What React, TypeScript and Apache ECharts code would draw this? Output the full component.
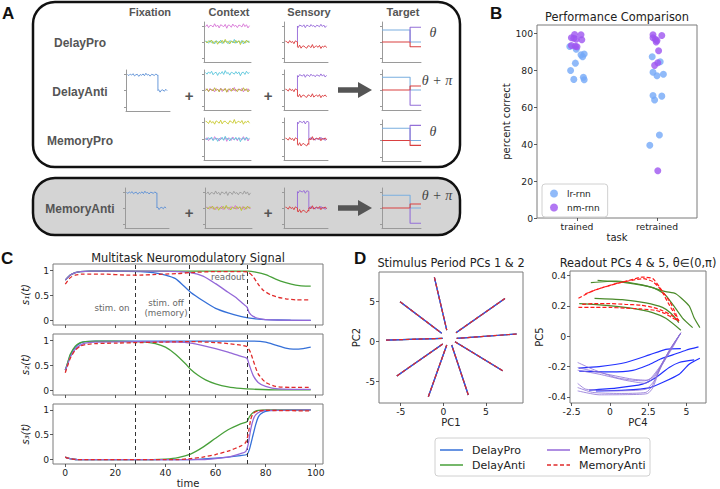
import React, { useEffect, useRef } from 'react';
import * as echarts from 'echarts';

const FONT = 'DejaVu Sans';
const HEAD_FONT = 'Liberation Sans';
const SERIF = 'Liberation Serif';

const TASKS = ['DelayPro', 'DelayAnti', 'MemoryPro', 'MemoryAnti'];
const TASK_COLOR: Record<string, string> = { DelayPro: '#3570d8', DelayAnti: '#48a03a', MemoryPro: '#9468d8', MemoryAnti: '#e02a2a' };
const READOUT_COLOR: Record<string, string> = { DelayPro: '#2130ff', DelayAnti: '#4b8b2b', MemoryPro: '#8d70d6', MemoryAnti: '#ff1a1a' };

// ---------- Panel A (schematic) ----------
const jitA = [0.02, -0.03, 0.04, -0.01, 0.06, -0.05, 0.01, 0.03, -0.07, 0.02, -0.02, 0.05, -0.04, 0.08, -0.01, 0.02, -0.06, 0.03, 0.01, -0.03, 0.05, -0.02, 0.04, -0.08, 0.02, 0.03, -0.04, 0.06, -0.01, 0.02];
const jitB = [-0.02, 0.04, -0.05, 0.02, 0.01, -0.03, 0.07, -0.02, 0.03, -0.06, 0.04, 0.01, -0.02, 0.05, -0.07, 0.03, 0.02, -0.04, 0.06, -0.01, 0.02, -0.05, 0.03, 0.01, -0.03, 0.07, -0.02, 0.04, -0.06, 0.01];
const jitC = [0.03, 0.01, -0.04, 0.05, -0.02, 0.02, -0.06, 0.04, 0.01, -0.03, 0.06, -0.05, 0.02, 0.03, -0.02, -0.05, 0.04, 0.02, -0.03, 0.08, -0.04, 0.01, 0.03, -0.02, 0.05, -0.06, 0.02, -0.01, 0.04, -0.03];
const fixationLevels = [0.88, 0.5];
const fixationOffIndex = 22;
const contextHigh = [0.9, 0.92, 0.9, 0.87];
const contextLow = 0.5;
const sensoryOnIndex = 9;
const memoryOffIndex = 17;
const sensoryHigh = [0.9, 0.86, 0.9, 0.91];
const sensoryBase = 0.5;
const sensoryRedLow = [0.38, 0.35, 0.37, 0.42];
const targetStep = 72;
const targetProBlue = [0.8, 0.5];
const targetProRed = [0.5, 0.38];
const targetProPurple = 0.87;
const targetAntiBlue = [0.82, 0.5];
const targetAntiRed = [0.5, 0.6];
const targetAntiPurple = 0.12;

// ---------- Panel B ----------
const perfCategories = ['trained', 'retrained'];
const perfTicks = [0, 20, 40, 60, 80, 100];
const lrTrained = [[-0.09, 93], [-0.01, 91.5], [0.09, 89], [0.07, 87.5], [0.05, 88.5], [-0.02, 84], [-0.08, 80], [-0.04, 75.2], [0.08, 76.4], [0.09, 75]];
const nmTrained = [[-0.03, 99.5], [0.05, 99.4], [-0.07, 97.8], [-0.04, 97.5], [-0.01, 97], [0.06, 96.7], [-0.07, 93.6], [-0.02, 93.2], [0.0, 92.9]];
const lrRetrained = [[0.94, 87.5], [1.04, 84.8], [0.95, 79.1], [1.0, 77.2], [1.08, 78], [0.95, 66.5], [0.97, 64], [1.06, 66.1], [1.03, 45], [0.91, 39.5]];
const nmRetrained = [[0.95, 99.4], [1.06, 99], [0.95, 97.8], [0.98, 97], [1.0, 96.3], [0.99, 95.5], [1.02, 90.7], [1.01, 84.2], [0.97, 82.8], [1.01, 25.6]];

// ---------- Panel C ----------
const timeTicks = [0, 20, 40, 60, 80, 100];
const signalTicks = [0, 0.5, 1];
const epochBounds = [28, 49.5, 72.5];
const epochLabels = ['stim. on', 'stim. off', '(memory)', 'readout'];
const s1DelayPro = [[0, 0.8], [2, 0.9], [4, 0.95], [6, 0.97], [10, 0.98], [20, 0.98], [30, 0.97], [35, 0.95], [40, 0.9], [44, 0.83], [47, 0.7], [50, 0.56], [55, 0.39], [60, 0.24], [65, 0.15], [70, 0.08], [73, 0.05], [76, 0.03], [80, 0.015], [90, 0.005], [98, 0]];
const s1DelayAnti = [[0, 0.8], [2, 0.9], [4, 0.95], [6, 0.97], [10, 0.98], [30, 0.98], [50, 0.98], [70, 0.98], [73, 0.98], [76, 0.96], [80, 0.91], [84, 0.82], [88, 0.75], [92, 0.7], [96, 0.68], [98, 0.68]];
const s1MemoryPro = [[0, 0.8], [2, 0.9], [4, 0.95], [6, 0.97], [10, 0.98], [30, 0.98], [40, 0.98], [45, 0.97], [50, 0.95], [55, 0.88], [60, 0.73], [65, 0.56], [68, 0.46], [71, 0.33], [72.5, 0.27], [73.5, 0.15], [75, 0.08], [78, 0.03], [82, 0.01], [98, 0]];
const s1MemoryAnti = [[0, 0.72], [2, 0.85], [4, 0.9], [7, 0.92], [15, 0.92], [25, 0.9], [30, 0.9], [35, 0.91], [40, 0.92], [45, 0.93], [50, 0.95], [60, 0.97], [70, 0.97], [73, 0.96], [75, 0.87], [77, 0.72], [79, 0.6], [82, 0.51], [85, 0.46], [88, 0.43], [92, 0.41], [98, 0.41]];
const s2DelayPro = [[0, 0.4], [1, 0.55], [2, 0.7], [4, 0.86], [6, 0.94], [8, 0.97], [12, 0.98], [40, 0.98], [60, 0.98], [75, 0.98], [80, 0.96], [84, 0.9], [88, 0.84], [91, 0.82], [95, 0.83], [98, 0.86]];
const s2DelayAnti = [[0, 0.4], [1, 0.56], [2, 0.72], [4, 0.88], [6, 0.95], [8, 0.97], [12, 0.98], [28, 0.97], [32, 0.96], [36, 0.93], [40, 0.86], [44, 0.72], [48, 0.53], [50, 0.42], [53, 0.3], [56, 0.21], [60, 0.13], [65, 0.07], [70, 0.04], [75, 0.025], [85, 0.01], [98, 0.01]];
const s2MemoryPro = [[0, 0.4], [1, 0.52], [2, 0.66], [4, 0.82], [6, 0.9], [8, 0.94], [12, 0.96], [30, 0.97], [45, 0.96], [50, 0.94], [55, 0.89], [60, 0.83], [65, 0.76], [70, 0.68], [72.5, 0.64], [73.5, 0.5], [75, 0.3], [77, 0.16], [80, 0.08], [85, 0.03], [98, 0.02]];
const s2MemoryAnti = [[0, 0.35], [1, 0.5], [2, 0.64], [4, 0.8], [6, 0.88], [8, 0.91], [12, 0.93], [20, 0.94], [30, 0.95], [40, 0.96], [50, 0.97], [60, 0.95], [65, 0.93], [70, 0.9], [72.5, 0.87], [74, 0.75], [75, 0.6], [77, 0.33], [80, 0.16], [84, 0.08], [90, 0.06], [98, 0.06]];
const s3DelayPro = [[0, 0.05], [1, 0.03], [3, 0.01], [5, 0], [50, 0], [60, 0.03], [65, 0.05], [70, 0.08], [72.5, 0.1], [73.5, 0.2], [75, 0.5], [76, 0.7], [77, 0.85], [78, 0.92], [80, 0.97], [84, 0.99], [98, 1]];
const s3DelayAnti = [[0, 0.05], [1, 0.03], [3, 0.01], [5, 0], [35, 0], [40, 0.01], [45, 0.04], [50, 0.11], [55, 0.25], [60, 0.43], [65, 0.6], [70, 0.72], [72.5, 0.76], [73.5, 0.86], [75, 0.95], [77, 0.99], [80, 1], [98, 1]];
const s3MemoryPro = [[0, 0.05], [1, 0.03], [3, 0.01], [5, 0], [55, 0], [60, 0.02], [65, 0.05], [70, 0.12], [72, 0.16], [73, 0.3], [74, 0.6], [75, 0.8], [76, 0.9], [78, 0.97], [80, 0.99], [98, 1]];
const s3MemoryAnti = [[0, 0.05], [1, 0.03], [3, 0.01], [5, 0], [45, 0], [50, 0.02], [55, 0.05], [60, 0.1], [65, 0.17], [70, 0.27], [72, 0.34], [73, 0.5], [74, 0.8], [75, 0.93], [77, 0.98], [80, 0.99], [98, 0.98]];
const signals = [
  [s1DelayPro, s1DelayAnti, s1MemoryPro, s1MemoryAnti],
  [s2DelayPro, s2DelayAnti, s2MemoryPro, s2MemoryAnti],
  [s3DelayPro, s3DelayAnti, s3MemoryPro, s3MemoryAnti],
];

// ---------- Panel D ----------
const pcTicks = [-5, 0, 5];
const spokeOuter = [[-1.05, 8.05], [-5.08, 5.0], [7.23, 5.4], [8.6, 0.96], [-6.72, 0.2], [-5.46, -4.29], [-1.76, -6.87], [2.93, -6.66], [6.96, -3.62]];
const spokeInner = [[0.4, 1.46], [-0.19, 1.05], [1.49, 1.13], [1.57, 0.42], [-0.07, 0.42], [-0.07, -0.29], [0.4, -0.41], [0.98, -0.41], [1.37, 0]];
const pc4Ticks = [-2.5, 0, 2.5, 5];
const pc5Ticks = [-0.4, -0.2, 0, 0.2, 0.4];
const readoutDelayPro = [
  [[-2.04, -0.21], [-0.7, -0.2], [1.04, -0.173], [2.57, -0.123], [3.65, -0.086], [4.63, -0.081]],
  [[-2.0, -0.23], [0, -0.235], [1.5, -0.225], [2.5, -0.19], [3.3, -0.15], [4.1, -0.123], [4.96, -0.092], [5.78, -0.07]],
  [[-1.35, -0.355], [0.39, -0.342], [2.13, -0.316], [3.0, -0.272], [3.87, -0.206], [4.52, -0.173], [5.5, -0.156]],
  [[-0.91, -0.36], [1.0, -0.355], [2.57, -0.34], [3.43, -0.305], [4.52, -0.25], [5.17, -0.184], [5.87, -0.145]],
];
const readoutDelayAnti = [
  [[-1.24, 0.353], [0.4, 0.364], [2.1, 0.338], [3.65, 0.294], [4.3, 0.28], [5.17, 0.2], [5.5, 0.12], [5.87, 0.057]],
  [[-0.8, 0.368], [1.0, 0.353], [2.8, 0.32], [3.54, 0.28], [4.1, 0.21], [4.74, 0.12], [5.4, 0.057]],
  [[-2.0, 0.215], [-0.26, 0.204], [1.48, 0.184], [2.78, 0.156], [3.65, 0.118], [4.63, 0.04]],
  [[-1.0, 0.25], [0.8, 0.241], [2.35, 0.22], [3.43, 0.19], [4.0, 0.15], [4.5, 0.09]],
];
const readoutMemoryPro = [
  [[-2.1, -0.173], [-1.13, -0.217], [0.39, -0.272], [1.5, -0.29], [2.24, -0.294], [2.78, -0.272], [3.43, -0.184], [4.09, -0.075], [4.63, 0.022]],
  [[-2.1, -0.206], [-0.7, -0.239], [1.48, -0.283], [2.46, -0.29], [3.22, -0.206], [3.98, -0.086], [4.63, 0.022]],
  [[-2.1, -0.224], [-0.7, -0.25], [1.0, -0.29], [2.3, -0.31], [2.9, -0.27], [3.5, -0.16], [4.1, -0.06], [4.63, 0.022]],
  [[-2.1, -0.311], [-1.57, -0.349], [0.39, -0.36], [2.35, -0.349], [2.89, -0.294], [3.43, -0.184], [4.05, -0.07], [4.63, 0.022]],
  [[-2.1, -0.338], [-1.13, -0.37], [0.61, -0.377], [2.35, -0.37], [2.75, -0.33], [3.3, -0.2], [3.95, -0.08], [4.63, 0.022]],
  [[-2.1, -0.36], [-0.7, -0.386], [1.0, -0.385], [2.45, -0.378], [2.8, -0.34], [3.25, -0.22], [3.9, -0.09], [4.63, 0.022]],
];
const readoutMemoryAnti = [
  [[-2.05, 0.25], [-1.1, 0.3], [0.2, 0.34], [1.5, 0.375], [2.1, 0.39], [2.8, 0.38], [3.4, 0.3], [3.9, 0.23], [4.2, 0.17], [4.5, 0.1]],
  [[-1.6, 0.28], [-0.5, 0.32], [0.5, 0.35], [1.5, 0.37], [2.2, 0.38], [2.8, 0.36], [3.3, 0.31], [3.8, 0.22], [4.2, 0.15], [4.5, 0.1]],
  [[-1.8, 0.21], [-1.0, 0.215], [0, 0.215], [1.0, 0.21], [2.0, 0.205], [2.8, 0.19], [3.4, 0.17], [4.0, 0.14], [4.5, 0.1]],
  [[-2.05, 0.19], [-1.0, 0.19], [0, 0.19], [1.0, 0.185], [2.0, 0.18], [3.0, 0.17], [3.6, 0.15], [4.1, 0.12], [4.5, 0.1]],
];
const readouts = [readoutDelayPro, readoutDelayAnti, readoutMemoryPro, readoutMemoryAnti];

// ---------- helpers ----------
function trace(jit: number[], segs: [number, number, number][], amp: number, lead?: number) {
  const out: number[][] = [];
  if (lead !== undefined) {
    out.push([segs[0][0] - 0.5, lead]);
    out.push([segs[0][0] - 0.5, segs[0][2]]);
  }
  segs.forEach(([a, b, lvl], k) => {
    if (k > 0) {
      out.push([a - 0.5, segs[k - 1][2]]);
      out.push([a - 0.5, lvl]);
    }
    for (let i = a; i <= b; i++) out.push([i, lvl + amp * jit[i]]);
  });
  return out;
}

function buildOption() {
  const grid: any[] = [], xAxis: any[] = [], yAxis: any[] = [], series: any[] = [], graphic: any[] = [];
  const nameTextStyle = { fontSize: 10, color: '#222', fontFamily: FONT };
  const addGrid = (g: any, xa: any, ya: any) => {
    const i = grid.length;
    grid.push(g);
    xAxis.push({ gridIndex: i, type: 'value', splitLine: { show: false }, ...xa });
    yAxis.push({ gridIndex: i, type: 'value', splitLine: { show: false }, ...ya });
    return i;
  };
  const framed = (l: number, t: number, w: number, h: number) => ({ left: l, top: t, width: w, height: h, show: true, borderColor: '#7a7a7a', borderWidth: 1, backgroundColor: 'rgba(0,0,0,0)' });
  const tick = (vals: number[]) => ({ show: true, customValues: vals, length: 3, lineStyle: { color: '#333', width: 0.8 } });
  const lbl = (vals: number[], show = true, fmt?: any) => {
    const o: any = { show, customValues: vals, fontSize: 9.2, color: '#222', fontFamily: FONT, margin: 4 };
    if (fmt) o.formatter = fmt;
    return o;
  };
  const noLine = { show: false, onZero: false };

  // ---------- Panel A mini plots ----------
  const miniAxisX = { min: -1, max: 30, z: 5, axisLine: { show: true, onZero: false, lineStyle: { color: '#9a9a9a', width: 1 } }, axisTick: { show: false }, axisLabel: { show: false } };
  const miniAxisY = { min: 0, max: 1, z: 5, axisLine: { show: true, onZero: false, lineStyle: { color: '#9a9a9a', width: 1 } }, axisTick: { show: true, customValues: [0.1, 0.5, 0.9], length: 2, lineStyle: { color: '#9a9a9a' } }, axisLabel: { show: false } };
  const mini = (r: number[], xmax = 30, xmin = -1) => addGrid({ left: r[0], top: r[1], width: r[2], height: r[3] }, { ...miniAxisX, min: xmin, max: xmax }, miniAxisY);
  const miniLine = (gi: number, data: number[][], color: string, w = 0.9) => series.push({ type: 'line', xAxisIndex: gi, yAxisIndex: gi, data, symbol: 'none', silent: true, z: 6, lineStyle: { color, width: w } });

  const FIX = '#5a8fd6', MAG = '#d774d6', CYAN = '#5ac6db', YG = '#b5c42a', OLIVE = '#b5ad2c', YEL = '#c9c930', GRAY = '#9a9a9a';
  const SPUR = '#9467d8', SRED = '#d9383a', TBLUE = '#7aaee0', TRED = '#d94040', TPUR = '#9470d8';

  const fixRects: Record<number, number[]> = { 1: [126, 70, 44, 41], 3: [125, 188, 44, 40] };
  const ctxRects = [[204, 22, 47, 40], [204, 70, 47, 40], [204, 118, 47, 42], [205, 188, 47, 40]];
  const senRects = [[284, 22, 44, 40], [284, 70, 44, 40], [284, 118, 44, 42], [284, 188, 44, 40]];
  const tgtRects = [[382, 22, 39, 40], [382, 70, 39, 40], [382, 120, 39, 41], [382, 188, 39, 40]];
  const ctxColors = [[MAG, CYAN, YG], [CYAN, MAG, OLIVE], [YEL, MAG, CYAN], [GRAY, MAG, YG]];
  const ctxJit = [[jitB, jitC, jitA], [jitA, jitC, jitB], [jitC, jitB, jitA], [jitB, jitC, jitA]];

  [1, 3].forEach((row) => {
    const g = mini(fixRects[row]);
    miniLine(g, trace(jitA, [[0, fixationOffIndex - 1, fixationLevels[0]], [fixationOffIndex, 28, fixationLevels[1]]], 0.5), FIX);
  });
  for (let row = 0; row < 4; row++) {
    const g = mini(ctxRects[row]);
    miniLine(g, trace(ctxJit[row][0], [[0, 29, contextHigh[row]]], 0.8), ctxColors[row][0]);
    miniLine(g, trace(ctxJit[row][1], [[0, 29, contextLow]], 0.8), ctxColors[row][1]);
    miniLine(g, trace(ctxJit[row][2], [[0, 29, contextLow]], 0.8), ctxColors[row][2]);

    const s = mini(senRects[row]);
    const isMem = row >= 2;
    if (!isMem) {
      miniLine(s, trace(jitB, [[sensoryOnIndex, 29, sensoryHigh[row]]], 0.6, sensoryBase), SPUR);
      miniLine(s, trace(jitC, [[0, sensoryOnIndex - 1, sensoryBase], [sensoryOnIndex, 29, sensoryRedLow[row]]], 0.7), SRED);
    } else {
      miniLine(s, trace(jitB, [[sensoryOnIndex, memoryOffIndex - 1, sensoryHigh[row]], [memoryOffIndex, 29, sensoryBase]], 0.6, sensoryBase), SPUR);
      miniLine(s, trace(jitC, [[0, sensoryOnIndex - 1, sensoryBase], [sensoryOnIndex, memoryOffIndex - 1, sensoryRedLow[row]], [memoryOffIndex, 29, sensoryBase]], 0.7), SRED);
    }

    const t = mini(tgtRects[row], 100, 0);
    const anti = row === 1 || row === 3;
    const bl = anti ? targetAntiBlue : targetProBlue;
    const rd = anti ? targetAntiRed : targetProRed;
    const pu = anti ? targetAntiPurple : targetProPurple;
    miniLine(t, [[0, bl[0]], [targetStep, bl[0]], [targetStep, bl[1]], [100, bl[1]]], TBLUE, 1.1);
    miniLine(t, [[0, rd[0]], [targetStep, rd[0]], [targetStep, rd[1]], [100, rd[1]]], TRED, 1.1);
    miniLine(t, [[targetStep, 0.5], [targetStep, pu], [100, pu]], TPUR, 1.1);
  }

  // ---------- Panel B ----------
  const gB = addGrid(framed(537, 25, 160, 193),
    { min: -0.5, max: 1.5, axisLine: noLine, axisTick: tick([0, 1]), axisLabel: lbl([0, 1], true, (v: number) => perfCategories[Math.round(v)]), name: 'task', nameLocation: 'middle', nameGap: 14, nameTextStyle },
    { min: 0, max: 104.7, axisLine: noLine, axisTick: tick(perfTicks), axisLabel: lbl(perfTicks), name: 'percent correct', nameLocation: 'middle', nameGap: 20, nameTextStyle });
  series.push({ type: 'scatter', name: 'lr-rnn', xAxisIndex: gB, yAxisIndex: gB, data: [...lrTrained, ...lrRetrained], symbolSize: 7, itemStyle: { color: '#74a9f7', opacity: 0.8 }, z: 3 });
  series.push({ type: 'scatter', name: 'nm-rnn', xAxisIndex: gB, yAxisIndex: gB, data: [...nmTrained, ...nmRetrained], symbolSize: 7, itemStyle: { color: '#9d55f0', opacity: 0.8 }, z: 4 });

  // ---------- Panel C ----------
  const cTops = [264, 334, 404];
  const yNames = ['s₁(t)', 's₂(t)', 's₃(t)'];
  cTops.forEach((top, k) => {
    const xa: any = { min: -4.9, max: 102.9, axisLine: noLine, axisTick: tick(timeTicks), axisLabel: lbl(timeTicks, k === 2) };
    if (k === 2) Object.assign(xa, { name: 'time', nameLocation: 'middle', nameGap: 14, nameTextStyle });
    const g = addGrid(framed(53, top, 270, 61), xa,
      { min: -0.09, max: 1.12, axisLine: noLine, axisTick: tick(signalTicks), axisLabel: lbl(signalTicks), name: yNames[k], nameLocation: 'middle', nameGap: 18, nameTextStyle: { ...nameTextStyle, fontStyle: 'italic' } });
    signals[k].forEach((arr, ti) => {
      const task = TASKS[ti];
      const s: any = { type: 'line', name: task, xAxisIndex: g, yAxisIndex: g, data: arr, symbol: 'none', smooth: 0.2, silent: true, z: 3 + ti, lineStyle: { color: TASK_COLOR[task], width: 1.3, type: ti === 3 ? [4, 2.5] : 'solid' } };
      if (ti === 0) s.markLine = { silent: true, symbol: 'none', label: { show: false }, lineStyle: { color: '#333', width: 1, type: [4, 3] }, data: epochBounds.map((b) => ({ xAxis: b })) };
      series.push(s);
    });
  });

  // ---------- Panel D left ----------
  const gDL = addGrid(framed(379, 272, 144, 131),
    { min: -7.55, max: 9.35, axisLine: noLine, axisTick: tick(pcTicks), axisLabel: lbl(pcTicks), name: 'PC1', nameLocation: 'middle', nameGap: 14, nameTextStyle },
    { min: -7.66, max: 8.71, axisLine: noLine, axisTick: tick(pcTicks), axisLabel: lbl(pcTicks), name: 'PC2', nameLocation: 'middle', nameGap: 3, nameTextStyle });
  const spokeOrder = [1, 2, 0, 3];
  spokeOrder.forEach((ti) => {
    const task = TASKS[ti];
    spokeOuter.forEach((o, i) => {
      series.push({ type: 'line', name: task, xAxisIndex: gDL, yAxisIndex: gDL, data: [o, spokeInner[i]], symbol: 'none', silent: true, z: 3 + spokeOrder.indexOf(ti), lineStyle: { color: ti === 0 ? '#3050e8' : TASK_COLOR[task], width: 1.2, type: ti === 3 ? [4, 2.5] : 'solid' } });
    });
  });

  // ---------- Panel D right ----------
  const gDR = addGrid(framed(570, 271, 136, 132),
    { min: -2.6, max: 6.27, axisLine: noLine, axisTick: tick(pc4Ticks), axisLabel: lbl(pc4Ticks), name: 'PC4', nameLocation: 'middle', nameGap: 14, nameTextStyle },
    { min: -0.44, max: 0.43, axisLine: noLine, axisTick: tick(pc5Ticks), axisLabel: lbl(pc5Ticks), name: 'PC5', nameLocation: 'middle', nameGap: 20, nameTextStyle });
  readouts.forEach((curves, ti) => {
    const task = TASKS[ti];
    curves.forEach((c) => {
      series.push({ type: 'line', name: task, xAxisIndex: gDR, yAxisIndex: gDR, data: c, symbol: 'none', smooth: 0.2, silent: true, z: 3 + ti, lineStyle: { color: READOUT_COLOR[task], width: ti === 2 ? 0.8 : 1.2, type: ti === 3 ? [4, 2] : 'solid' } });
    });
  });

  // ---------- graphic ----------
  const txt = (x: number, y: number, text: string, o: any = {}) => ({ type: 'text', x, y, z: 50, silent: true, style: { text, fill: '#222', fontFamily: FONT, fontSize: 10, align: 'center', verticalAlign: 'middle', ...o } });
  graphic.push({ type: 'rect', z: -1, silent: true, shape: { x: 33, y: 2, width: 427, height: 165, r: 22 }, style: { fill: '#ffffff', stroke: '#111', lineWidth: 2.5 } });
  graphic.push({ type: 'rect', z: -1, silent: true, shape: { x: 33, y: 178, width: 427, height: 57, r: 22 }, style: { fill: '#d4d4d4', stroke: '#111', lineWidth: 2.5 } });
  const head = { fontFamily: HEAD_FONT, fontWeight: 'bold', fill: '#555' };
  [['Fixation', 150], ['Context', 229], ['Sensory', 309], ['Target', 403]].forEach(([t, x]) => graphic.push(txt(x as number, 12, t as string, { ...head, fontSize: 11 })));
  [[43, 'DelayPro'], [92, 'DelayAnti'], [141, 'MemoryPro'], [209, 'MemoryAnti']].forEach(([y, t]) => graphic.push(txt(80, y as number, t as string, { ...head, fontSize: 12 })));
  [[189, 95], [268, 95], [189, 212], [268, 212]].forEach(([x, y]) => graphic.push(txt(x, y, '+', { ...head, fontSize: 15 })));
  const arrow = (x0: number, cy: number) => ({ type: 'polygon', z: 50, silent: true, shape: { points: [[x0, cy - 2.7], [x0 + 20, cy - 2.7], [x0 + 20, cy - 8], [x0 + 34, cy], [x0 + 20, cy + 8], [x0 + 20, cy + 2.7], [x0, cy + 2.7]] }, style: { fill: '#555' } });
  graphic.push(arrow(338, 90));
  graphic.push(arrow(338, 208));
  const th = { fontFamily: SERIF, fontStyle: 'italic', fontSize: 14, fill: '#444' };
  graphic.push(txt(433, 32, 'θ', th));
  graphic.push(txt(437, 80, 'θ + π', th));
  graphic.push(txt(433, 131, 'θ', th));
  graphic.push(txt(437, 195, 'θ + π', th));
  const letter = { fontFamily: HEAD_FONT, fontWeight: 'bold', fontSize: 17, fill: '#111', align: 'left' };
  graphic.push(txt(2, 13, 'A', letter));
  graphic.push(txt(490, 13, 'B', letter));
  graphic.push(txt(1, 258, 'C', letter));
  graphic.push(txt(354, 258, 'D', letter));
  const ttl = { fontSize: 11.4, fill: '#222' };
  graphic.push(txt(617, 17, 'Performance Comparison', ttl));
  graphic.push(txt(188, 258, 'Multitask Neuromodulatory Signal', ttl));
  graphic.push(txt(451, 263, 'Stimulus Period PCs 1 & 2', ttl));
  graphic.push(txt(638, 263, 'Readout PCs 4 & 5, θ∈(0,π)', ttl));
  const ann = { fontSize: 8.7, fill: '#666' };
  graphic.push(txt(112, 308, epochLabels[0], ann));
  graphic.push(txt(166, 303, epochLabels[1], ann));
  graphic.push(txt(166, 313, epochLabels[2], ann));
  graphic.push(txt(228, 277, epochLabels[3], ann));
  // legend for C/D
  graphic.push({ type: 'rect', z: 40, silent: true, shape: { x: 435, y: 438, width: 215, height: 38, r: 3 }, style: { fill: '#fff', stroke: '#d0d0d0', lineWidth: 1 } });
  const legPos = [[440, 450], [440, 465], [547, 450], [547, 465]];
  TASKS.forEach((task, i) => {
    const [x, y] = legPos[i];
    graphic.push({ type: 'line', z: 50, silent: true, shape: { x1: x, y1: y, x2: x + 23, y2: y }, style: { stroke: TASK_COLOR[task], lineWidth: 1.5, lineDash: i === 3 ? [4, 2.5] : null } });
    graphic.push(txt(x + 32, y, task, { align: 'left', fontSize: 11 }));
  });

  return {
    animation: false,
    backgroundColor: '#ffffff',
    grid, xAxis, yAxis, series, graphic,
    legend: [{
      data: ['lr-rnn', 'nm-rnn'], left: 542, top: 184, orient: 'vertical', itemWidth: 8, itemHeight: 8, itemGap: 5, icon: 'circle',
      padding: [5, 8, 5, 8], borderColor: '#d0d0d0', borderWidth: 1, borderRadius: 3, backgroundColor: '#fff', selectedMode: false,
      textStyle: { fontSize: 9, color: '#222', fontFamily: FONT, padding: [0, 0, 0, 4] },
    }],
  };
}

export default function App() {
  const ref = useRef<HTMLDivElement>(null);
  useEffect(() => {
    const chart = echarts.init(ref.current!, null, { renderer: 'svg' });
    chart.setOption(buildOption() as any);
    return () => chart.dispose();
  }, []);
  return <div ref={ref} style={{ position: 'fixed', left: 0, top: 0, width: 720, height: 489, background: '#fff' }} />;
}
